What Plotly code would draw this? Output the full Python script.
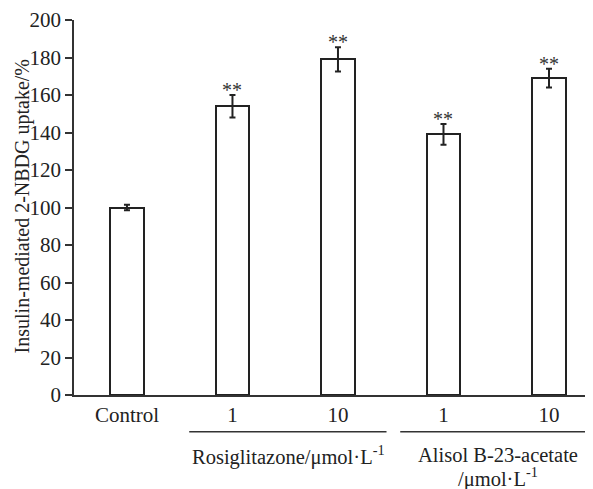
import plotly.graph_objects as go

categories = ["Control", "1", "10", "1", "10"]
values = [100, 154, 179, 139, 169]
errors = [1.5, 6, 6.5, 5.5, 5]
stars = ["", "**", "**", "**", "**"]
groups = [(["Rosiglitazone/μmol·L<sup>-1</sup>"], 1, 2),
          (["Alisol B-23-acetate", "/μmol·L<sup>-1</sup>"], 3, 4)]
y_title = "Insulin-mediated 2-NBDG uptake/%"

FONT = "Liberation Serif, Times New Roman, serif"
x = list(range(len(categories)))

# page body has an 8px margin, so the figure is drawn from (8, 8)
fig = go.Figure()
fig.add_trace(go.Bar(
    x=x, y=values, width=0.32,
    marker=dict(color="white", line=dict(color="#222", width=2)),
    error_y=dict(type="data", array=errors, visible=True, color="#222", thickness=2, width=3),
    showlegend=False,
))

for xi, v, e, s in zip(x, values, errors, stars):
    if s:
        fig.add_annotation(x=xi, y=v + e, text=s, showarrow=False, xref="x", yref="y",
                           yanchor="bottom", yshift=-8, font=dict(family=FONT, size=20, color="#333"))

for lines, a, b in groups:
    fig.add_shape(type="line", xref="x", yref="paper", x0=a - 0.41, x1=b + 0.46,
                  y0=-0.098, y1=-0.098, line=dict(color="#333", width=1.5))
    xc = (a + b) / 2 + (0.02 if a > 2 else 0.03)
    for k, line in enumerate(lines):
        fig.add_annotation(x=xc, y=-0.161 - 0.058 * k, xref="x", yref="paper",
                           text=line, showarrow=False, yanchor="middle",
                           font=dict(family=FONT, size=20.5, color="#222"))

fig.add_annotation(x=(22 - 74) / 519, y=0.503, xref="paper", yref="paper", text=y_title,
                   textangle=-90, showarrow=False, xanchor="center", yanchor="middle",
                   font=dict(family=FONT, size=20, color="#222"))

fig.update_layout(
    width=585, height=481,
    margin=dict(l=66, r=0, t=12, b=94, autoexpand=False),
    paper_bgcolor="white", plot_bgcolor="white",
    font=dict(family=FONT, size=21, color="#222"),
    bargap=0,
)
fig.update_xaxes(range=[-0.502, 4.417], tickvals=x, ticktext=categories, showline=True,
                 linecolor="#333", linewidth=1.5, ticks="", showgrid=False, zeroline=False,
                 automargin=False, tickfont=dict(family=FONT, size=21, color="#222"))
fig.update_yaxes(range=[0, 200], tickvals=list(range(0, 201, 20)), showline=True,
                 linecolor="#333", linewidth=1.5, ticks="outside", ticklen=7, tickwidth=1.5,
                 tickcolor="#333", showgrid=False, zeroline=False, automargin=False,
                 tickfont=dict(family=FONT, size=21, color="#222"))

fig.write_html("out.html")
